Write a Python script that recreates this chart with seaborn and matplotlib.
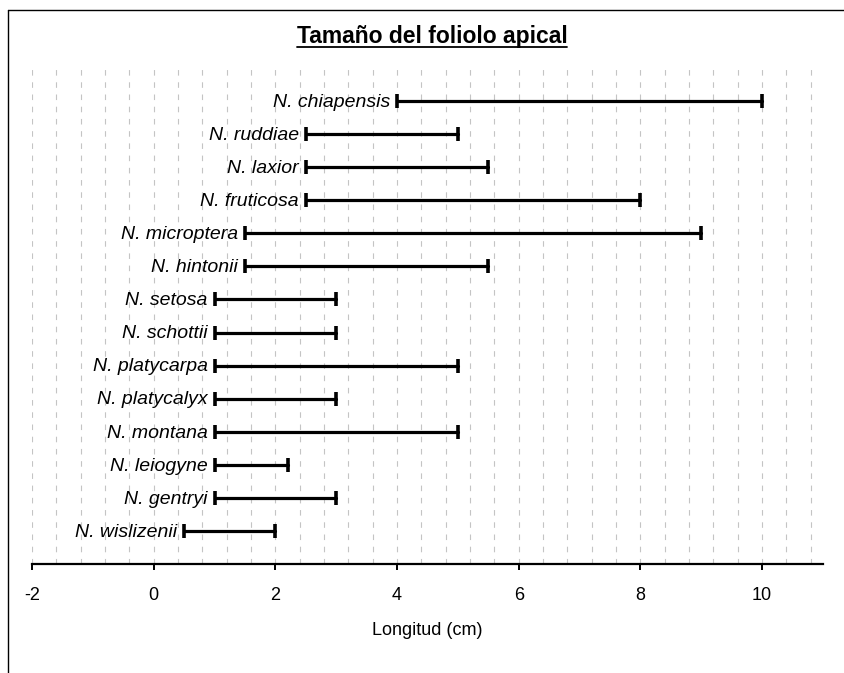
import numpy as np
import pandas as pd
import matplotlib
matplotlib.use('Agg')
import matplotlib.pyplot as plt
from matplotlib.lines import Line2D
import seaborn as sns

# Rango de longitud del foliolo apical por especie (cm)
especies = ['N. chiapensis', 'N. ruddiae', 'N. laxior', 'N. fruticosa', 'N. microptera',
            'N. hintonii', 'N. setosa', 'N. schottii', 'N. platycarpa', 'N. platycalyx',
            'N. montana', 'N. leiogyne', 'N. gentryi', 'N. wislizenii']
long_min = [4, 2.5, 2.5, 2.5, 1.5, 1.5, 1, 1, 1, 1, 1, 1, 1, 0.5]
long_max = [10, 5, 5.5, 8, 9, 5.5, 3, 3, 5, 3, 5, 2.2, 3, 2]

x_ticks = [-2, 0, 2, 4, 6, 8, 10]
titulo = 'Tamaño del foliolo apical'
x_label = 'Longitud (cm)'

sns.set_style('white')
plt.rcParams['font.family'] = ['Liberation Sans', 'DejaVu Sans']
plt.rcParams['text.color'] = 'black'
plt.rcParams['axes.labelcolor'] = 'black'
plt.rcParams['xtick.color'] = 'black'
plt.rcParams['axes.unicode_minus'] = False

W, H = 845, 673
fig = plt.figure(figsize=(W / 100, H / 100), dpi=100)
ax = fig.add_axes([32 / W, (H - 564) / H, 791 / W, 496 / H])

# tabla larga: dos puntos (min, max) por especie
df = pd.DataFrame({
    'especie': especies * 2,
    'pos': list(range(len(especies))) * 2,
    'valor': long_min + long_max,
})

sns.lineplot(data=df, x='valor', y='pos', units='especie', estimator=None,
             sort=False, color='black', linewidth=2.3, marker='|',
             markersize=9.5, markeredgewidth=2.6, markeredgecolor='black',
             ax=ax, legend=False)

for i, nombre in enumerate(especies):
    ax.annotate(nombre, xy=(long_min[i], i), xytext=(-5, -4.2),
                textcoords='offset points', ha='right', va='baseline',
                fontsize=14, style='italic', color='black')

ax.set_xlim(-2, 11)
ax.set_ylim(14, -1)
ax.set_xticks(x_ticks)
ax.set_xticks(np.arange(-2, 10.81, 0.4), minor=True)
ax.set_yticks([])
ax.set_xlabel(x_label, fontsize=13, labelpad=13)
ax.set_ylabel('')
ax.tick_params(axis='x', which='major', direction='out', length=4.5, width=1.4,
               labelsize=13, pad=12, bottom=True, color='black', labelcolor='black')
ax.tick_params(axis='x', which='minor', length=0)
ax.grid(True, axis='x', which='both', color='#c4c4c4', linestyle=(0, (5, 6)), linewidth=0.8)
ax.grid(False, axis='y')
for s in ['top', 'right', 'left']:
    ax.spines[s].set_visible(False)
ax.spines['bottom'].set_linewidth(1.6)
ax.spines['bottom'].set_color('black')

# titulo subrayado
t = fig.text(432 / W, 1 - 43 / H, titulo, ha='center', va='baseline',
             fontsize=16.5, fontweight='bold', color='black')
fig.canvas.draw()
bb = t.get_window_extent()
yl = (H - 46.5) / H
fig.add_artist(Line2D([bb.x0 / W, bb.x1 / W], [yl, yl], color='black', linewidth=1.3))

# marco exterior (solo arriba e izquierda visibles)
fig.add_artist(Line2D([8 / W, 1], [1 - 10 / H, 1 - 10 / H], color='black', linewidth=1))
fig.add_artist(Line2D([8 / W, 8 / W], [0, 1 - 10 / H], color='black', linewidth=1))

fig.savefig('out.png', dpi=100)
